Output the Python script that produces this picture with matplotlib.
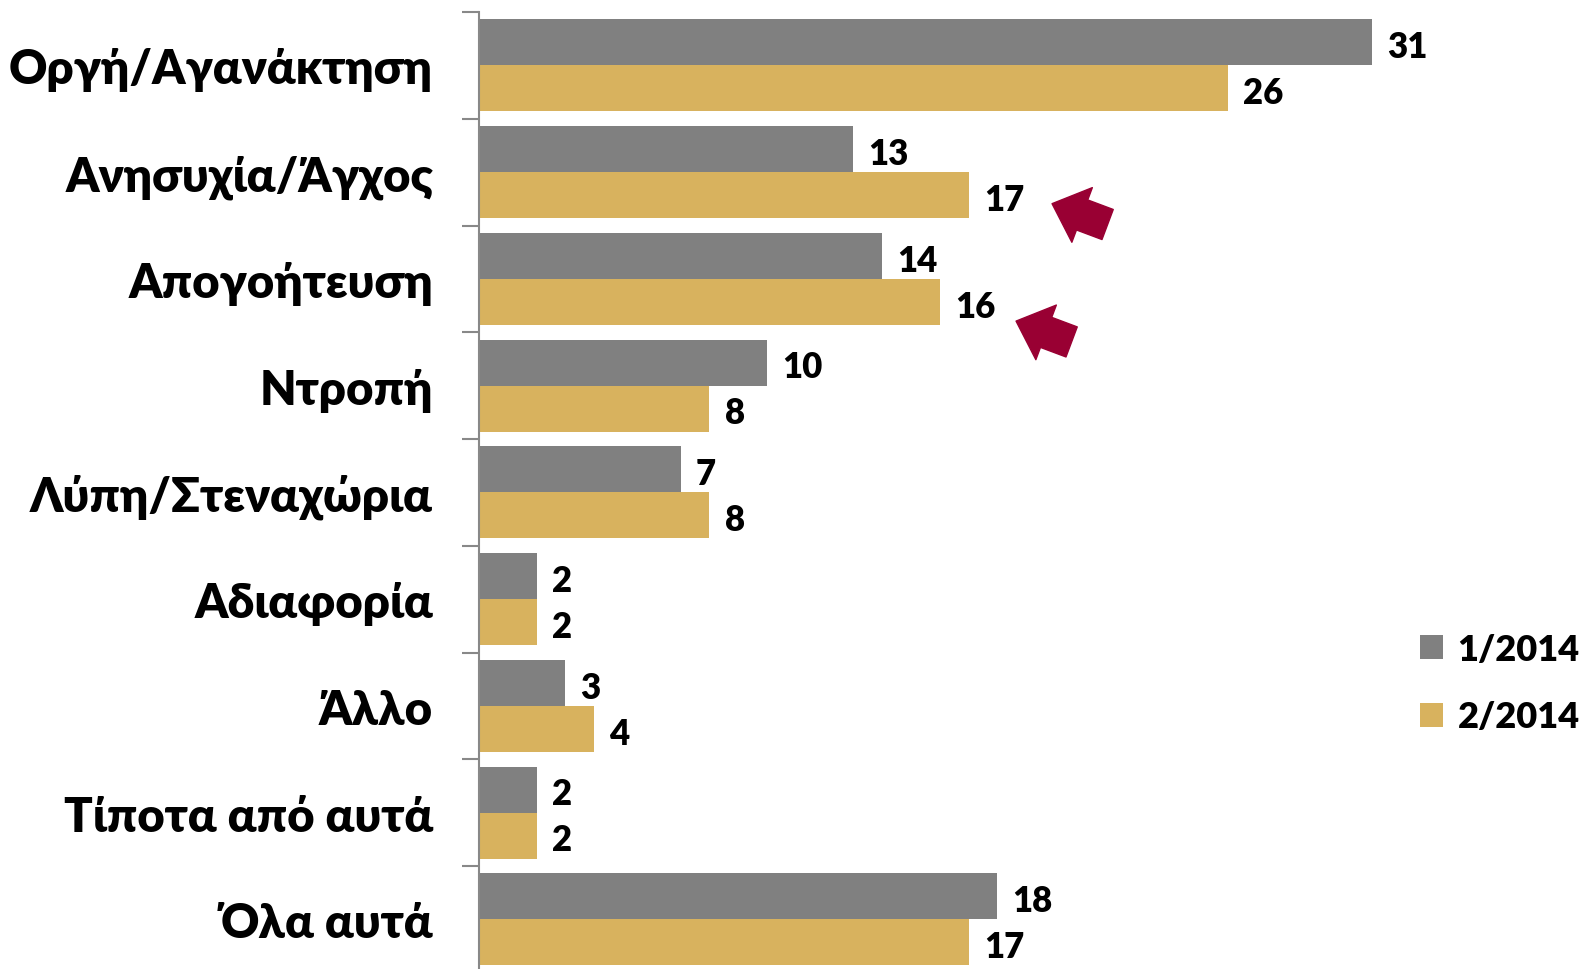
import numpy as np
import matplotlib
matplotlib.use('Agg')
import matplotlib.pyplot as plt

plt.rcParams['font.family'] = ['Lato', 'Open Sans', 'DejaVu Sans']
plt.rcParams['font.weight'] = 'bold'

categories = ['Οργή/Αγανάκτηση', 'Ανησυχία/Άγχος', 'Απογοήτευση', 'Ντροπή',
              'Λύπη/Στεναχώρια', 'Αδιαφορία', 'Άλλο', 'Τίποτα από αυτά', 'Όλα αυτά']
jan_2014 = [31, 13, 14, 10, 7, 2, 3, 2, 18]
feb_2014 = [26, 17, 16, 8, 8, 2, 4, 2, 17]
series_names = ['1/2014', '2/2014']
# categories flagged with an arrow: (index, tip distance right of bar, tip shift down)
arrow_marks = [(1, 2.9, 0.08), (2, 2.65, 0.18)]

gray = '#808080'
gold = '#D8B25E'
arrow_col = '#990033'

fig = plt.figure(figsize=(15.87, 9.70), dpi=100)
ax = fig.add_axes([0.3018, -0.0039, 0.5807, 0.9905])

y = np.arange(len(categories))
h = 0.431
ax.barh(y - h / 2, jan_2014, height=h, color=gray, label=series_names[0])
ax.barh(y + h / 2, feb_2014, height=h, color=gold, label=series_names[1])

for yi, v in zip(y - h / 2, jan_2014):
    ax.annotate(str(v), (v, yi), xytext=(11, -3), textcoords='offset points',
                va='center', ha='left', fontsize=25, fontweight='heavy')
for yi, v in zip(y + h / 2, feb_2014):
    ax.annotate(str(v), (v, yi), xytext=(11, -3), textcoords='offset points',
                va='center', ha='left', fontsize=25, fontweight='heavy')

for i, dx, dy in arrow_marks:
    tip = (feb_2014[i] + dx, i + h / 2 + dy)
    ax.annotate('', xy=tip, xytext=(40, -15), textcoords='offset points',
                arrowprops=dict(arrowstyle='simple,head_length=0.55,head_width=1.0,tail_width=0.55',
                                color=arrow_col, mutation_scale=42,
                                shrinkA=0, shrinkB=0))

ax.set_xlim(0, 32)
ax.set_ylim(len(categories) - 0.5, -0.5)

ax.set_yticks(y)
ax.set_yticklabels(categories, fontsize=34, fontweight='heavy')
ax.tick_params(axis='y', which='major', length=0, pad=33)
ax.set_yticks(np.arange(len(categories) + 1) - 0.5, minor=True)
ax.tick_params(axis='y', which='minor', length=12, width=1.5, color='#888888')
ax.set_xticks([])

for s in ['top', 'right', 'bottom']:
    ax.spines[s].set_visible(False)
ax.spines['left'].set_color('#888888')
ax.spines['left'].set_linewidth(1.5)

fig.legend(loc='upper left', bbox_to_anchor=(0.8948, 1 - 634 / 970), frameon=False,
           handlelength=0.64, handleheight=0.64, handletextpad=0.4,
           labelspacing=0.95, borderpad=0, borderaxespad=0,
           prop={'weight': 'heavy', 'size': 26})

fig.savefig('out.png', dpi=100)
